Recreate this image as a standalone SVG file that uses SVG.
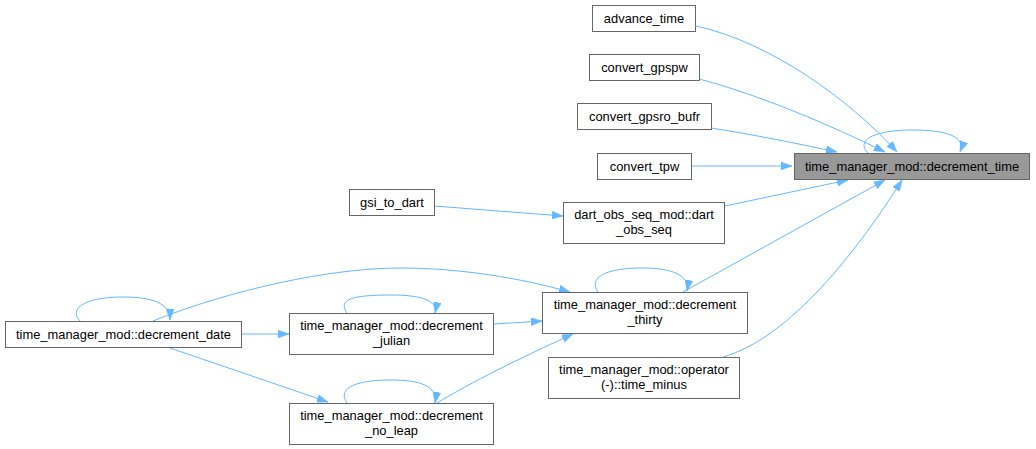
<svg xmlns="http://www.w3.org/2000/svg" width="1036" height="449" viewBox="0 0 1036 449">
<style>
.n rect{fill:#ffffff;stroke:#666666;stroke-width:1}
.n.t rect{fill:#999999}
.n text{font-family:"Liberation Sans",Arial,sans-serif;font-size:12.9px;fill:#000000;text-anchor:middle}
.e path{fill:none;stroke:#63b8ff;stroke-width:1;marker-end:url(#ah)}
</style>
<defs>
<marker id="ah" viewBox="0 0 11 8" refX="11" refY="4" markerWidth="11" markerHeight="8" markerUnits="userSpaceOnUse" orient="auto">
<path d="M0,0 L11,4 L0,8 z" fill="#63b8ff" stroke="#63b8ff" stroke-width="0.5"/>
</marker>
</defs>
<rect width="1036" height="449" fill="#ffffff"/>
<g id="edges" class="e">
<path d="M696,26 C770,42 850,100 897,152"/>
<path d="M699,79 C760,95 830,125 885,152"/>
<path d="M711,128 C750,134 800,144 837,152"/>
<path d="M691,166 L792,166"/>
<path d="M725,206 L848,180"/>
<path d="M683,292 L885,180"/>
<path d="M723,357 C790,338 858,250 902,180"/>
<path d="M868,153 C855,140 875,130 912,130 C948,130 966,137 960,152"/>
<path d="M598,292 C588,278 605,268 642,268 C672,268 690,275 687,291"/>
<path d="M153,321 C230,290 330,268 400,268 C460,268 520,278 570,292"/>
<path d="M80,321 C68,308 86,297 123,297 C152,297 170,303 170,320"/>
<path d="M241,334 L289,334"/>
<path d="M167,347 L328,402"/>
<path d="M347,313 C337,299 354,295 391,295 C420,295 438,300 435,313"/>
<path d="M493,324 L542,321"/>
<path d="M347,403 C337,389 354,380 391,380 C420,380 438,386 435,403"/>
<path d="M437,403 C470,383 520,358 573,334"/>
<path d="M434,206 L563,216"/>
</g>
<g id="decrement_time" class="n t"><rect x="794.5" y="153.5" width="235" height="26"/><text x="912" y="171">time_manager_mod::decrement_time</text></g>
<g id="advance_time" class="n"><rect x="592.5" y="5.5" width="103" height="26"/><text x="644" y="23">advance_time</text></g>
<g id="convert_gpspw" class="n"><rect x="589.5" y="54.5" width="110" height="26"/><text x="644.5" y="72">convert_gpspw</text></g>
<g id="convert_gpsro_bufr" class="n"><rect x="577.5" y="103.5" width="134" height="26"/><text x="644.5" y="121">convert_gpsro_bufr</text></g>
<g id="convert_tpw" class="n"><rect x="597.5" y="153.5" width="94" height="26"/><text x="644.5" y="171">convert_tpw</text></g>
<g id="dart_obs_seq" class="n"><rect x="563.5" y="202.5" width="161" height="41"/><text x="644" y="219">dart_obs_seq_mod::dart</text><text x="644" y="234">_obs_seq</text></g>
<g id="gsi_to_dart" class="n"><rect x="349.5" y="189.5" width="85" height="26"/><text x="392" y="207">gsi_to_dart</text></g>
<g id="decrement_thirty" class="n"><rect x="542.5" y="292.5" width="205" height="41"/><text x="645" y="309">time_manager_mod::decrement</text><text x="645" y="324">_thirty</text></g>
<g id="time_minus" class="n"><rect x="548.5" y="357.5" width="191" height="41"/><text x="644" y="374">time_manager_mod::operator</text><text x="644" y="389">(-)::time_minus</text></g>
<g id="decrement_date" class="n"><rect x="5.5" y="321.5" width="236" height="26"/><text x="123.5" y="339">time_manager_mod::decrement_date</text></g>
<g id="decrement_julian" class="n"><rect x="289.5" y="313.5" width="204" height="41"/><text x="391.5" y="330">time_manager_mod::decrement</text><text x="391.5" y="345">_julian</text></g>
<g id="decrement_no_leap" class="n"><rect x="289.5" y="403.5" width="204" height="41"/><text x="391.5" y="420">time_manager_mod::decrement</text><text x="391.5" y="435">_no_leap</text></g>
</svg>
